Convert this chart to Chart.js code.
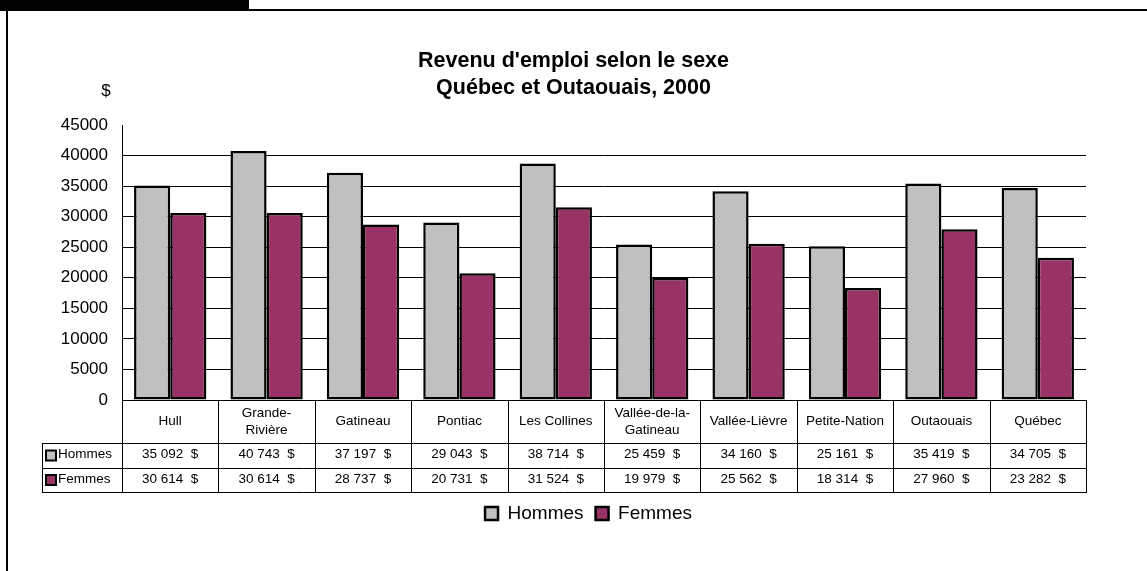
<!DOCTYPE html>
<html>
<head>
<meta charset="utf-8">
<script src="https://cdn.jsdelivr.net/npm/chart.js@4/dist/chart.umd.min.js"></script>
<style>
  html, body { margin: 0; padding: 0; background: #fff; }
  #wrap { width: 1147px; height: 571px; position: relative; }
</style>
</head>
<body>
<div id="wrap"><canvas id="c" width="1147" height="571"></canvas></div>
<script>
// ---- Data ----
const categories = [
  ["Hull"], ["Grande-", "Rivière"], ["Gatineau"], ["Pontiac"], ["Les Collines"],
  ["Vallée-de-la-", "Gatineau"], ["Vallée-Lièvre"], ["Petite-Nation"], ["Outaouais"], ["Québec"]
];
const seriesNames = ["Hommes", "Femmes"];
const hommes = [35092, 40743, 37197, 29043, 38714, 25459, 34160, 25161, 35419, 34705];
const femmes = [30614, 30614, 28737, 20731, 31524, 19979, 25562, 18314, 27960, 23282];
const titleLines = ["Revenu d'emploi selon le sexe", "Québec et Outaouais, 2000"];
const yUnit = "$";
const yMin = 0, yMax = 45000, yStep = 5000;

// ---- Styles ----
const FONT = "'Liberation Sans', Arial, Helvetica, sans-serif";
const GRAY = "#C0C0C0";
const PLUM = "#993366";
const colors = [GRAY, PLUM];

Chart.defaults.font.family = FONT;
Chart.defaults.color = "#000";

function fmt(v) {
  return String(v).replace(/\B(?=(\d{3})+(?!\d))/g, " ") + "  $";
}

const tablePlugin = {
  id: "tablePlugin",
  beforeDraw(chart) {
    const ctx = chart.ctx;
    ctx.save();
    ctx.fillStyle = "#fff";
    ctx.fillRect(0, 0, chart.width, chart.height);
    // frame
    ctx.fillStyle = "#000";
    ctx.fillRect(0, 0, 249, 10);
    ctx.fillRect(0, 9, chart.width, 2);
    ctx.fillRect(6, 9, 2, chart.height - 9);
    ctx.restore();
  },
  afterLayout(chart) {
    // legend is offset to the right in the reference
    if (chart.legend) {
      chart.legend.left += 15;
      chart.legend.right += 15;
    }
  },
  afterDraw(chart) {
    const ctx = chart.ctx;
    const xs = chart.scales.x;
    const ys = chart.scales.y;
    const n = categories.length;
    const left = xs.left, right = xs.right;
    const cw = (right - left) / n;
    const top = ys.bottom;            // 0 line
    const r1 = top + 43;              // end of category row
    const r2 = r1 + 25;
    const r3 = r2 + 24;
    const hdrLeft = 42;

    ctx.save();
    // "$" unit label
    ctx.font = "17px " + FONT;
    ctx.fillStyle = "#000";
    ctx.textAlign = "center";
    ctx.textBaseline = "middle";
    ctx.fillText(yUnit, 106, 91);

    ctx.strokeStyle = "#000";
    ctx.lineWidth = 1;
    const hline = (x1, x2, y) => { ctx.beginPath(); ctx.moveTo(x1, Math.round(y) + 0.5); ctx.lineTo(x2, Math.round(y) + 0.5); ctx.stroke(); };
    const vline = (x, y1, y2) => { ctx.beginPath(); ctx.moveTo(Math.round(x) + 0.5, y1); ctx.lineTo(Math.round(x) + 0.5, y2); ctx.stroke(); };

    // axis line extension and table borders
    hline(left, right + 1, top);
    hline(hdrLeft, right + 1, r1);
    hline(hdrLeft, right + 1, r2);
    hline(hdrLeft, right + 1, r3);
    vline(hdrLeft, r1, r3 + 1);
    for (let i = 0; i <= n; i++) {
      vline(left + i * cw, i === 0 ? ys.top : top, r3 + 1);
    }

    // category labels
    ctx.font = "13.5px " + FONT;
    ctx.fillStyle = "#000";
    ctx.textAlign = "center";
    ctx.textBaseline = "middle";
    const cy = (top + r1) / 2;
    categories.forEach((lines, i) => {
      const cx = left + (i + 0.5) * cw;
      const lh = 17;
      const y0 = cy - (lines.length - 1) * lh / 2;
      lines.forEach((t, k) => ctx.fillText(t, cx, y0 + k * lh));
    });

    // values
    const rows = [hommes, femmes];
    const rowCenters = [(r1 + r2) / 2 - 1, (r2 + r3) / 2 - 1];
    rows.forEach((vals, ri) => {
      vals.forEach((v, i) => {
        ctx.fillText(fmt(v), left + (i + 0.5) * cw, rowCenters[ri]);
      });
    });

    // row headers with swatches
    ctx.textAlign = "left";
    seriesNames.forEach((name, ri) => {
      const yc = rowCenters[ri] + 1;
      ctx.fillStyle = colors[ri];
      ctx.fillRect(46, yc - 5, 10, 10);
      ctx.lineWidth = 2;
      ctx.strokeStyle = "#000";
      ctx.strokeRect(46, yc - 5, 10, 10);
      ctx.fillStyle = "#000";
      ctx.fillText(name, 58, rowCenters[ri]);
    });
    ctx.restore();
  }
};

new Chart(document.getElementById("c"), {
  type: "bar",
  data: {
    labels: categories.map(c => c.join(" ")),
    datasets: [
      { label: seriesNames[0], data: hommes, backgroundColor: GRAY, borderColor: "#000", borderWidth: 2.5, borderSkipped: false },
      { label: seriesNames[1], data: femmes, backgroundColor: PLUM, borderColor: "#000", borderWidth: 2.5, borderSkipped: false }
    ]
  },
  options: {
    responsive: false,
    animation: false,
    events: [],
    layout: { padding: { left: 61, right: 61, top: 0, bottom: 38 } },
    datasets: { bar: { categoryPercentage: 0.75, barPercentage: 1.0 } },
    scales: {
      x: {
        grid: { display: false, drawTicks: false },
        border: { display: false },
        ticks: { display: false },
        afterFit(scale) { scale.height = 92; }
      },
      y: {
        min: yMin, max: yMax,
        ticks: { stepSize: yStep, padding: 14, font: { size: 17 }, color: "#000", callback: (v) => String(v) },
        grid: {
          drawTicks: false,
          color: (c) => (c.tick && c.tick.value === yMax) || (c.tick && c.tick.value === 0) ? "rgba(0,0,0,0)" : "#000",
          lineWidth: 1
        },
        border: { display: true, color: "#000", width: 1 },
        afterFit(scale) { scale.width = 61; }
      }
    },
    plugins: {
      title: {
        display: true,
        text: titleLines,
        color: "#000",
        font: { size: 21.5, weight: "bold", lineHeight: "27px" },
        padding: { top: 47.5, bottom: 23.5 }
      },
      legend: {
        display: true,
        position: "bottom",
        labels: { font: { size: 19 }, boxWidth: 13, boxHeight: 13, padding: 12, color: "#000" }
      },
      tooltip: { enabled: false }
    }
  },
  plugins: [tablePlugin]
});
</script>
</body>
</html>
